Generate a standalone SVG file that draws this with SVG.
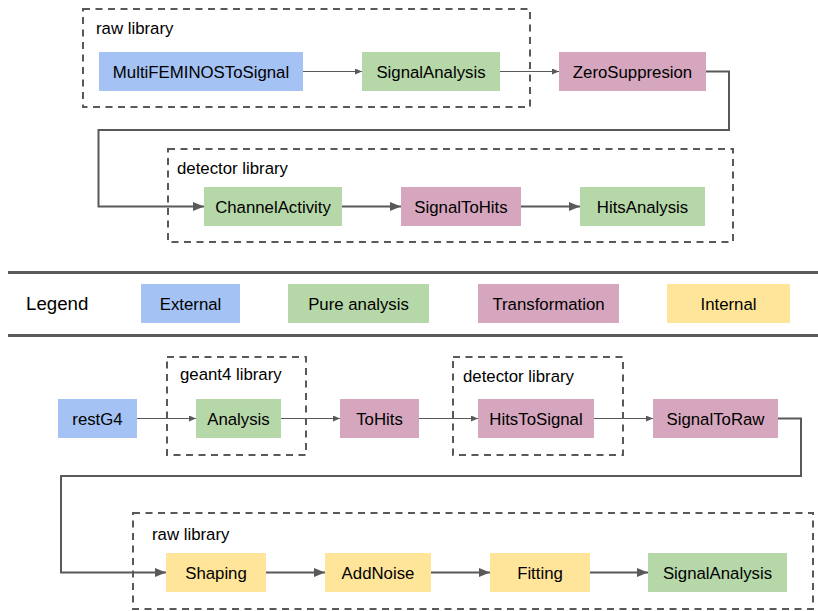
<svg xmlns="http://www.w3.org/2000/svg" width="818" height="611" viewBox="0 0 818 611">
<defs>
<style>
.lbl{font-family:"Liberation Sans",Arial,sans-serif;font-size:16.8px;fill:#000;text-anchor:middle}
.glbl{font-family:"Liberation Sans",Arial,sans-serif;font-size:16.8px;fill:#000}
.grp{fill:none;stroke:#595959;stroke-width:2;stroke-dasharray:7 5.5}
.ext{fill:#a4c2f4}.ana{fill:#b6d7a8}.trf{fill:#d5a6bd}.int{fill:#ffe599}
.thin{fill:none;stroke:#595959;stroke-width:1.2;marker-end:url(#ahs)}
.thick{fill:none;stroke:#595959;stroke-width:2;marker-end:url(#ahl)}
.sep{stroke:#5a5a5a;stroke-width:3}
</style>
<marker id="ahs" markerWidth="7" markerHeight="6" refX="7" refY="3" orient="auto" markerUnits="userSpaceOnUse"><path d="M0,0 L7,3 L0,6 z" fill="#595959"/></marker>
<marker id="ahl" markerWidth="11" markerHeight="9" refX="11" refY="4.5" orient="auto" markerUnits="userSpaceOnUse"><path d="M0,0 L11,4.5 L0,9 z" fill="#595959"/></marker>
</defs>
<rect width="818" height="611" fill="#fff"/>

<g id="group-raw-top"><rect class="grp" x="83" y="9" width="447" height="98"/><text class="glbl" x="96" y="34">raw library</text></g>
<g id="group-detector-top"><rect class="grp" x="168" y="149" width="565" height="93"/><text class="glbl" x="177" y="174">detector library</text></g>
<g id="group-geant4"><rect class="grp" x="167" y="357" width="139" height="98"/><text class="glbl" x="180" y="380">geant4 library</text></g>
<g id="group-detector-bottom"><rect class="grp" x="453" y="357" width="170" height="98"/><text class="glbl" x="463" y="382">detector library</text></g>
<g id="group-raw-bottom"><rect class="grp" x="133" y="513" width="680" height="96"/><text class="glbl" x="152" y="540">raw library</text></g>

<g id="connectors">
<path class="thin" d="M303,71.5 H362"/>
<path class="thin" d="M500,71.5 H559"/>
<path class="thick" d="M706,71.5 H729 V130 H98.5 V206.5 H204"/>
<path class="thick" d="M342,206.5 H401"/>
<path class="thick" d="M521,206.5 H580"/>
<path class="thin" d="M137,418.5 H196"/>
<path class="thin" d="M281,418.5 H340"/>
<path class="thin" d="M419,418.5 H478"/>
<path class="thin" d="M594,418.5 H653"/>
<path class="thick" d="M778,418.5 H801 V476 H61 V572.5 H166"/>
<path class="thick" d="M266,572.5 H325"/>
<path class="thick" d="M431,572.5 H490"/>
<path class="thick" d="M590,572.5 H648"/>
</g>

<g id="n-multifeminos"><rect class="ext" x="99" y="52" width="204" height="39"/><text class="lbl" x="201" y="77.5">MultiFEMINOSToSignal</text></g>
<g id="n-signalanalysis-top"><rect class="ana" x="362" y="52" width="138" height="39"/><text class="lbl" x="431" y="77.5">SignalAnalysis</text></g>
<g id="n-zerosuppresion"><rect class="trf" x="559" y="52" width="147" height="39"/><text class="lbl" x="632.5" y="77.5">ZeroSuppresion</text></g>
<g id="n-channelactivity"><rect class="ana" x="204" y="187" width="138" height="39"/><text class="lbl" x="273" y="212.5">ChannelActivity</text></g>
<g id="n-signaltohits"><rect class="trf" x="401" y="187" width="120" height="39"/><text class="lbl" x="461" y="212.5">SignalToHits</text></g>
<g id="n-hitsanalysis"><rect class="ana" x="580" y="187" width="125" height="39"/><text class="lbl" x="642.5" y="212.5">HitsAnalysis</text></g>

<g id="legend">
<line class="sep" x1="8" y1="272.5" x2="818" y2="272.5"/>
<line class="sep" x1="8" y1="335.5" x2="818" y2="335.5"/>
<text x="26" y="310" style="font-family:'Liberation Sans',Arial,sans-serif;font-size:18.7px;fill:#000">Legend</text>
<g id="legend-external"><rect class="ext" x="141" y="284" width="99" height="39"/><text class="lbl" x="190.5" y="309.5">External</text></g>
<g id="legend-analysis"><rect class="ana" x="288" y="284" width="141" height="39"/><text class="lbl" x="358.5" y="309.5">Pure analysis</text></g>
<g id="legend-transformation"><rect class="trf" x="478" y="284" width="141" height="39"/><text class="lbl" x="548.5" y="309.5">Transformation</text></g>
<g id="legend-internal"><rect class="int" x="667" y="284" width="123" height="39"/><text class="lbl" x="728.5" y="309.5">Internal</text></g>
</g>

<g id="n-restg4"><rect class="ext" x="58" y="399" width="79" height="39"/><text class="lbl" x="97.5" y="424.5">restG4</text></g>
<g id="n-analysis"><rect class="ana" x="196" y="399" width="85" height="39"/><text class="lbl" x="238.5" y="424.5">Analysis</text></g>
<g id="n-tohits"><rect class="trf" x="340" y="399" width="79" height="39"/><text class="lbl" x="379.5" y="424.5">ToHits</text></g>
<g id="n-hitstosignal"><rect class="trf" x="478" y="399" width="116" height="39"/><text class="lbl" x="536" y="424.5">HitsToSignal</text></g>
<g id="n-signaltoraw"><rect class="trf" x="653" y="399" width="125" height="39"/><text class="lbl" x="715.5" y="424.5">SignalToRaw</text></g>
<g id="n-shaping"><rect class="int" x="166" y="553" width="100" height="39"/><text class="lbl" x="216" y="578.5">Shaping</text></g>
<g id="n-addnoise"><rect class="int" x="325" y="553" width="106" height="39"/><text class="lbl" x="378" y="578.5">AddNoise</text></g>
<g id="n-fitting"><rect class="int" x="490" y="553" width="100" height="39"/><text class="lbl" x="540" y="578.5">Fitting</text></g>
<g id="n-signalanalysis-bottom"><rect class="ana" x="648" y="553" width="139" height="39"/><text class="lbl" x="717.5" y="578.5">SignalAnalysis</text></g>
</svg>
